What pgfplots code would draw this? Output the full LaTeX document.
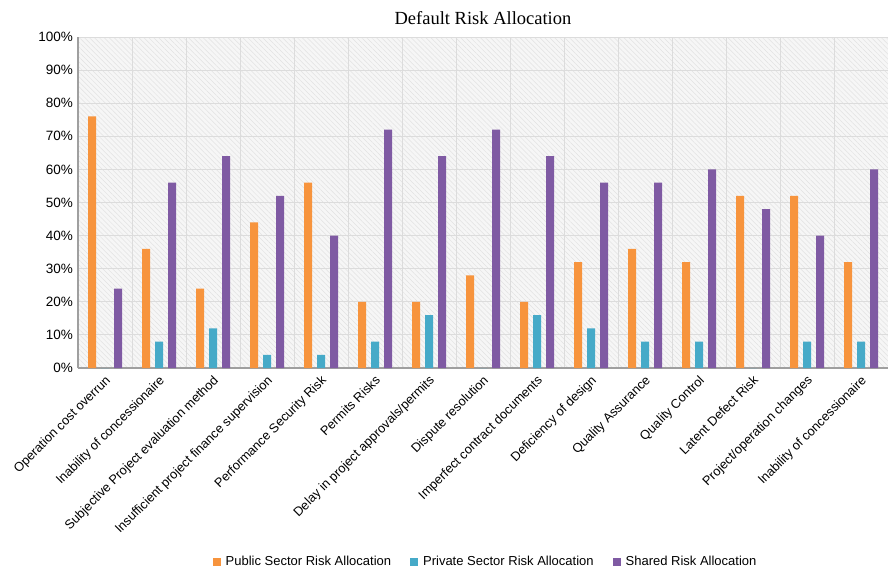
\documentclass[border=0pt]{standalone}
\usepackage{pgfplots}
\pgfplotsset{compat=1.18}
\usetikzlibrary{patterns.meta}
\usepackage{fontspec}
\setmainfont{Liberation Sans}
\newfontfamily\titlefont{Liberation Serif}

\definecolor{pubC}{RGB}{247,148,61}
\definecolor{privC}{RGB}{70,170,200}
\definecolor{shrC}{RGB}{127,90,163}
\definecolor{bgC}{RGB}{246,246,246}
\definecolor{hatchC}{RGB}{226,226,226}
\definecolor{gridC}{RGB}{220,220,220}

\begin{document}
\begin{tikzpicture}
\useasboundingbox (0pt,0pt) rectangle (888pt,-567pt);
\begin{axis}[
  at={(78pt,-37pt)}, anchor=north west,
  scale only axis, width=810pt, height=331pt,
  ybar=5pt, bar width=8pt,
  xmin=-0.5, xmax=14.5, ymin=0, ymax=100,
  xtick={0,...,14},
  xticklabels={Operation cost overrun, Inability of concessionaire, Subjective Project evaluation method, Insufficient project finance supervision, Performance Security Risk, Permits Risks, Delay in project approvals/permits, Dispute resolution, Imperfect contract documents, Deficiency of design, Quality Assurance, Quality Control, Latent Defect Risk, Project/operation changes, Inability of concessionaire},
  xticklabel style={rotate=45, anchor=north east, inner sep=1pt, yshift=-3pt, xshift=-4pt, font=\fontsize{12.8}{15}\selectfont},
  minor xtick={-0.5,0.5,...,14.5},
  xminorgrids, ymajorgrids,
  minor grid style={gridC, line width=1pt},
  major grid style={gridC, line width=1pt},
  ytick={0,10,...,100},
  yticklabels={0\%,10\%,20\%,30\%,40\%,50\%,60\%,70\%,80\%,90\%,100\%},
  yticklabel style={font=\fontsize{13.5}{15}\selectfont, inner sep=2pt, xshift=-3pt},
  major tick length=0pt, minor tick length=0pt,
  axis x line*=bottom, axis y line*=left,
  axis line style={-, gray!75, line width=1.4pt},
  axis background/.style={fill=bgC, postaction={pattern={Lines[angle=-45, distance=3.5pt, line width=0.5pt]}, pattern color=hatchC}},
  title={\titlefont\fontsize{18.5}{20}\selectfont Default Risk Allocation},
  title style={at={(0.5,1)}, anchor=south, yshift=3pt},
  legend columns=3,
  legend style={draw=none, fill=none, at={(0.505,-0.586)}, anchor=center,
    font=\fontsize{13}{15}\selectfont, /tikz/every even column/.append style={column sep=14pt},
    nodes={inner xsep=5pt}},
  legend image code/.code={\fill[#1] (0pt,-4pt) rectangle (8pt,4pt);},
]
\addplot[draw=none, fill=pubC] coordinates {
  (0,76) (1,36) (2,24) (3,44) (4,56) (5,20) (6,20) (7,28)
  (8,20) (9,32) (10,36) (11,32) (12,52) (13,52) (14,32)};
\addplot[draw=none, fill=privC] coordinates {
  (0,0) (1,8) (2,12) (3,4) (4,4) (5,8) (6,16) (7,0)
  (8,16) (9,12) (10,8) (11,8) (12,0) (13,8) (14,8)};
\addplot[draw=none, fill=shrC] coordinates {
  (0,24) (1,56) (2,64) (3,52) (4,40) (5,72) (6,64) (7,72)
  (8,64) (9,56) (10,56) (11,60) (12,48) (13,40) (14,60)};
\legend{Public Sector Risk Allocation, Private Sector Risk Allocation, Shared Risk Allocation}
\end{axis}
\end{tikzpicture}
\end{document}
